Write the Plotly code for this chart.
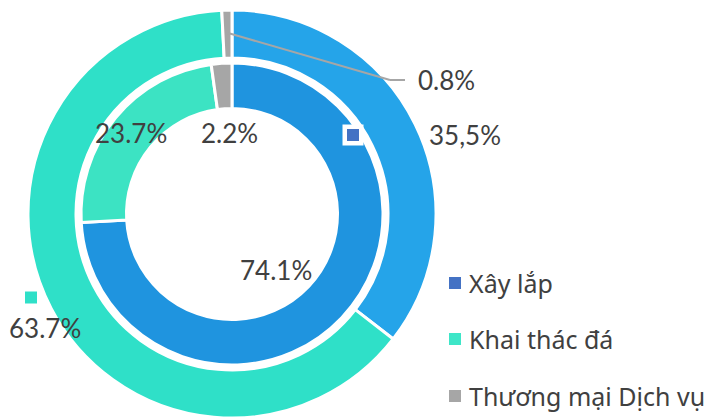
import plotly.graph_objects as go

# ---------------- data ----------------
categories = ["Xây lắp", "Khai thác đá", "Thương mại Dịch vụ"]
outer_values = [35.5, 63.7, 0.8]
inner_values = [74.1, 23.7, 2.2]
outer_label_text = ["35,5%", "63.7%", "0.8%"]
inner_label_text = ["74.1%", "23.7%", "2.2%"]

# ---------------- geometry / style ----------------
W, H = 710, 420
CX, CY = 232, 214
R_OUT, R_OUT_HOLE = 204, 156
R_IN, R_IN_HOLE = 151, 105.5

outer_colors = ["#25a4e9", "#2fe0c8", "#a6a6a6"]
inner_colors = ["#1f94df", "#3ce3c3", "#a6a6a6"]
legend_colors = ["#4472c4", "#3ee6c8", "#a6a6a6"]
TEXT_COLOR = "#404040"
NUM_FONT = "Lato"
LEG_FONT = "Noto Sans"


def px(x):
    return x / W


def py(y):
    return 1 - y / H


def domain(r):
    return dict(x=[px(CX - r), px(CX + r)], y=[py(CY + r), py(CY - r)])


fig = go.Figure()
fig.add_trace(go.Pie(
    labels=categories, values=outer_values, sort=False, direction="clockwise",
    rotation=0, hole=R_OUT_HOLE / R_OUT, domain=domain(R_OUT),
    marker=dict(colors=outer_colors, line=dict(color="white", width=3)),
    textinfo="none", hoverinfo="label+value", showlegend=False,
))
fig.add_trace(go.Pie(
    labels=categories, values=inner_values, sort=False, direction="clockwise",
    rotation=0, hole=R_IN_HOLE / R_IN, domain=domain(R_IN),
    marker=dict(colors=inner_colors, line=dict(color="white", width=3)),
    textinfo="none", hoverinfo="label+value", showlegend=False,
))

annotations = []
shapes = []

# value labels (pixel positions of text centres)
outer_label_pos = [(465, 135), (45, 328), (446, 80)]
inner_label_pos = [(275.5, 270), (131, 133), (229, 133)]
for txt, (x, y) in zip(outer_label_text + inner_label_text,
                        outer_label_pos + inner_label_pos):
    annotations.append(dict(
        x=px(x), y=py(y), xref="paper", yref="paper", text=txt,
        showarrow=False, xanchor="center", yanchor="middle",
        font=dict(family=NUM_FONT, size=26, color=TEXT_COLOR),
    ))

# leader line for the small outer slice
for (x0, y0, x1, y1) in [(228, 33, 390, 80), (390, 80, 405, 80)]:
    shapes.append(dict(type="line", xref="paper", yref="paper",
                       x0=px(x0), y0=py(y0), x1=px(x1), y1=py(y1),
                       line=dict(color="#a6a6a6", width=2)))


def square(cx, cy, size, color, layer="above"):
    return dict(type="rect", xref="paper", yref="paper",
                x0=px(cx - size / 2), x1=px(cx + size / 2),
                y0=py(cy + size / 2), y1=py(cy - size / 2),
                fillcolor=color, line=dict(width=0), layer=layer)


# small markers next to outer labels
shapes.append(square(353, 135, 21, "white"))
shapes.append(square(353, 135, 12, legend_colors[0]))
shapes.append(square(31, 297.5, 12, outer_colors[1]))

# custom legend
legend_y = [283, 339, 396]
for name, col, y in zip(categories, legend_colors, legend_y):
    shapes.append(square(455, y, 12, col))
    annotations.append(dict(
        x=px(467), y=py(y), xref="paper", yref="paper", text=name,
        showarrow=False, xanchor="left", yanchor="middle",
        font=dict(family=LEG_FONT, size=25, color=TEXT_COLOR),
    ))

fig.update_layout(
    width=W, height=H, margin=dict(l=0, r=0, t=0, b=0),
    paper_bgcolor="white", plot_bgcolor="white",
    annotations=annotations, shapes=shapes, showlegend=False,
)

fig.write_html(
    "out.html",
    config={"displayModeBar": False},
    post_script="document.body.style.margin='0';document.body.style.padding='0';",
)
